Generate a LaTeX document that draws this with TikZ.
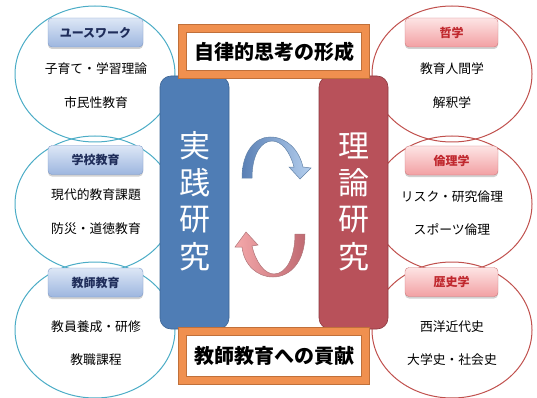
\documentclass[tikz,border=0pt]{standalone}
\usepackage{fontspec}
\setmainfont{Noto Sans CJK JP}
\usetikzlibrary{shapes.geometric,shadows}
\definecolor{tealc}{HTML}{4BACC6}
\definecolor{redc}{HTML}{C0504D}
\definecolor{bluebox}{HTML}{4F7DB5}
\definecolor{blueboxd}{HTML}{3D6594}
\definecolor{redbox}{HTML}{B8515A}
\definecolor{redboxd}{HTML}{8C3A40}
\definecolor{orangec}{HTML}{F0904F}
\definecolor{oranged}{HTML}{C0703A}
\definecolor{navy}{HTML}{1F2D5A}
\definecolor{tabred}{HTML}{C0282E}
\definecolor{tabbt}{HTML}{DDE7F6}
\definecolor{tabbb}{HTML}{9DB6DF}
\definecolor{tabbd}{HTML}{7F9CCB}
\definecolor{tabrt}{HTML}{FDE4E4}
\definecolor{tabrb}{HTML}{F2A0A3}
\definecolor{tabrd}{HTML}{D27A7E}
\definecolor{arrbl}{HTML}{5A80B5}
\definecolor{arrbr}{HTML}{B5CFEE}
\definecolor{arrrl}{HTML}{F4A8AA}
\definecolor{arrrr}{HTML}{C06A72}
\begin{document}
\begin{tikzpicture}[x=1pt,y=-1pt,
  circL/.style={ellipse,draw=tealc,line width=1pt,minimum width=160pt,minimum height=136pt,inner sep=0pt},
  circR/.style={ellipse,draw=redc,line width=1pt,minimum width=160pt,minimum height=136pt,inner sep=0pt},
  tabshadow/.style={drop shadow={shadow xshift=0pt,shadow yshift=-2pt,opacity=0.3,fill=black!60}},
  tabL/.style={rounded corners=4pt,draw=tabbd,top color=tabbt,bottom color=tabbb,minimum width=95pt,minimum height=29pt,inner sep=0pt,tabshadow,text=navy,font=\bfseries\fontsize{12}{13}\selectfont},
  tabR/.style={rounded corners=4pt,draw=tabrd,top color=tabrt,bottom color=tabrb,minimum width=93pt,minimum height=29pt,inner sep=0pt,tabshadow,text=tabred,font=\bfseries\fontsize{12}{13}\selectfont},
  body/.style={font=\fontsize{12.8}{14}\selectfont,inner sep=0pt},
  vtext/.style={text=white,font=\fontsize{31}{32}\selectfont,inner sep=0pt},
  titlebox/.style={draw=oranged,double=orangec,double distance=7.5pt,line width=0.6pt,fill=white,minimum width=183pt,inner sep=0pt,font=\bfseries\fontsize{20}{22}\selectfont},
]
\useasboundingbox (0,0) rectangle (537,398);
% ellipses
\node[circL] (cl1) at (95,74) {};
\node[circL] (cl2) at (95,204) {};
\node[circL] (cl3) at (95,330) {};
\node[circR] (cr1) at (452,74) {};
\node[circR] (cr2) at (452,204) {};
\node[circR] (cr3) at (452,330) {};
% tabs
\node[tabL] (tl1) at (95.5,32.5) {ユースワーク};
\node[tabL] (tl2) at (95.5,160) {学校教育};
\node[tabL] (tl3) at (95.5,282.5) {教師教育};
\node[tabR] (tr1) at (451.5,32.5) {哲学};
\node[tabR] (tr2) at (451.5,160.5) {倫理学};
\node[tabR] (tr3) at (451.5,282) {歴史学};
% body texts
\node[body] (bl1a) at (96,69) {子育て・学習理論};
\node[body] (bl1b) at (96,103) {市民性教育};
\node[body] (bl2a) at (96,195) {現代的教育課題};
\node[body] (bl2b) at (96,229) {防災・道徳教育};
\node[body] (bl3a) at (96,327) {教員養成・研修};
\node[body] (bl3b) at (96,360) {教職課程};
\node[body] (br1a) at (452,69) {教育人間学};
\node[body] (br1b) at (452,103) {解釈学};
\node[body] (br2a) at (452,197) {リスク・研究倫理};
\node[body] (br2b) at (452,230) {スポーツ倫理};
\node[body] (br3a) at (452,327) {西洋近代史};
\node[body] (br3b) at (452,360) {大学史・社会史};
% central columns
\node[draw=blueboxd,fill=bluebox,rounded corners=11pt,minimum width=69pt,minimum height=253pt,inner sep=0pt,line width=0.6pt] (jb) at (194.5,202.5) {};
\node[draw=redboxd,fill=redbox,rounded corners=11pt,minimum width=69pt,minimum height=253pt,inner sep=0pt,line width=0.6pt] (rb) at (353.5,202.5) {};
\node[vtext] (j1) at (194.5,146) {実};
\node[vtext] (j2) at (194.5,183) {践};
\node[vtext] (j3) at (194.5,220) {研};
\node[vtext] (j4) at (194.5,257) {究};
\node[vtext] (r1) at (353.5,146) {理};
\node[vtext] (r2) at (353.5,183) {論};
\node[vtext] (r3) at (353.5,220) {研};
\node[vtext] (r4) at (353.5,257) {究};
% title boxes
\node[titlebox,minimum height=46pt] (top) at (274,51.5) {自律的思考の形成};
\node[titlebox,minimum height=49pt] (bot) at (274,356) {教師教育への貢献};
% cycle arrows
\path[draw=blueboxd!80,line width=0.5pt,left color=arrbl,right color=arrbr]
  (242,178) .. controls (242,152) and (255,137) .. (270,137)
  .. controls (287,137) and (299,150) .. (303,167) -- (311,168) -- (300,179) -- (289,167) -- (294,167)
  .. controls (290,152) and (282,141) .. (272,141)
  .. controls (262,141) and (252,153) .. (252,178) -- cycle;
\path[draw=redboxd!70,line width=0.5pt,left color=arrrl,right color=arrrr]
  (295,234) -- (305,234) .. controls (305,262) and (290,277) .. (273,277)
  .. controls (257,277) and (244,265) .. (242,247) -- (235,247) -- (246,232) -- (258,245) -- (252,246)
  .. controls (256,263) and (265,274) .. (274,274)
  .. controls (286,274) and (295,258) .. (295,234) -- cycle;
\end{tikzpicture}
\end{document}
